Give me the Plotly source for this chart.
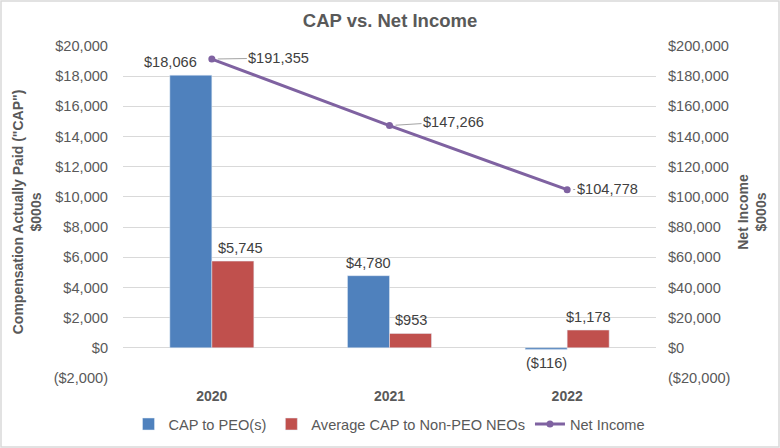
import plotly.graph_objects as go

years = ["2020", "2021", "2022"]
cap_peo = [18066, 4780, -116]
cap_neo = [5745, 953, 1178]
net_income = [191355, 147266, 104778]

left_ticks = list(range(-2000, 20001, 2000))
right_ticks = list(range(-20000, 200001, 20000))


def money(v):
    return f"(${abs(v):,})" if v < 0 else f"${v:,}"


W, H = 780, 448
L, R, T, B = 123, 124, 46, 70
FONT = "Liberation Sans, Arial, sans-serif"
GREY = "#595959"
LABEL = "#404040"
FS = 14.6

fig = go.Figure()
fig.add_trace(go.Bar(
    x=years, y=cap_peo, name="CAP to PEO(s)", marker_color="#4f81bd",
))
fig.add_trace(go.Bar(
    x=years, y=cap_neo, name="Average CAP to Non-PEO NEOs", marker_color="#c0504d",
))
fig.add_trace(go.Scatter(
    x=years, y=net_income, name="Net Income", yaxis="y2", mode="lines+markers",
    line=dict(color="#7f62a1", width=3), marker=dict(size=7, color="#7f62a1"),
))

# bar data labels: half-bar pixel offset plus small nudges like the original
half_bar = 21
peo_nudge = [-20, 0, 0]
neo_nudge = [8, 0, 0]
for series, side, nudge in ((cap_peo, -1, peo_nudge), (cap_neo, 1, neo_nudge)):
    for i, v in enumerate(series):
        fig.add_annotation(
            x=i, y=v, xref="x", yref="y", text=money(v), showarrow=False,
            xshift=side * half_bar + nudge[i],
            yanchor="bottom" if v >= 0 else "top", yshift=3 if v >= 0 else -3,
            font=dict(color=LABEL, size=FS, family=FONT),
        )

# net income data labels with leader lines
label_dx = [67, 64, 40]
label_dy = [-1, -4, -1]
for i, v in enumerate(net_income):
    fig.add_annotation(
        x=i, y=v, yref="y2", xref="x", text=money(v), showarrow=True,
        arrowhead=0, arrowwidth=0.8, arrowcolor="#8c8c8c",
        ax=label_dx[i], ay=label_dy[i],
        xanchor="center", font=dict(color=LABEL, size=FS, family=FONT),
        standoff=6,
    )

pw = W - L - R
ph = H - T - B
fig.add_shape(type="rect", xref="paper", yref="paper",
              x0=-(L - 1) / pw, x1=1 + (R - 1) / pw,
              y0=-(B - 1) / ph, y1=1 + (T - 1) / ph,
              line=dict(color="#d9d9d9", width=1.5), layer="below")

fig.update_layout(
    width=W, height=H, margin=dict(l=L, r=R, t=T, b=B, autoexpand=False),
    paper_bgcolor="white", plot_bgcolor="white",
    font=dict(family=FONT, size=FS, color=GREY),
    title=dict(text="<b>CAP vs. Net Income</b>", x=0.5, xanchor="center",
               y=0.955, yanchor="middle", font=dict(size=18.5, color=GREY)),
    barmode="group", bargap=0.527, bargroupgap=0,
    xaxis=dict(type="category", range=[-0.5, 2.5], autorange=False,
               tickfont=dict(size=14, color=GREY), ticklabelstandoff=8,
               tickvals=years, ticktext=[f"<b>{y}</b>" for y in years],
               showgrid=False, showline=False, automargin=False),
    yaxis=dict(range=[-2000, 20000], autorange=False, tickvals=left_ticks,
               ticktext=[money(v) for v in left_ticks], automargin=False,
               gridcolor="#d9d9d9", zeroline=False, tickfont=dict(size=FS, color=GREY),
               ticklabelstandoff=14,
               title=dict(text="<b>Compensation Actually Paid (\"CAP\")<br>$000s</b>",
                          font=dict(size=14, color=GREY), standoff=8)),
    yaxis2=dict(range=[-20000, 200000], autorange=False, tickvals=right_ticks, automargin=False,
                ticktext=[money(v) for v in right_ticks], overlaying="y", side="right",
                showgrid=False, zeroline=False, tickfont=dict(size=FS, color=GREY),
                ticklabelstandoff=11,
                title=dict(text="<b>Net Income<br>$000s</b>",
                           font=dict(size=14, color=GREY), standoff=8)),
    legend=dict(orientation="h", x=0.5, xanchor="center", y=-0.1386, yanchor="middle",
                font=dict(size=FS, color=GREY), traceorder="normal"),
    showlegend=True,
)

fig.write_html("out.html", config={"displayModeBar": False},
               post_script="document.body.style.margin='0';")
